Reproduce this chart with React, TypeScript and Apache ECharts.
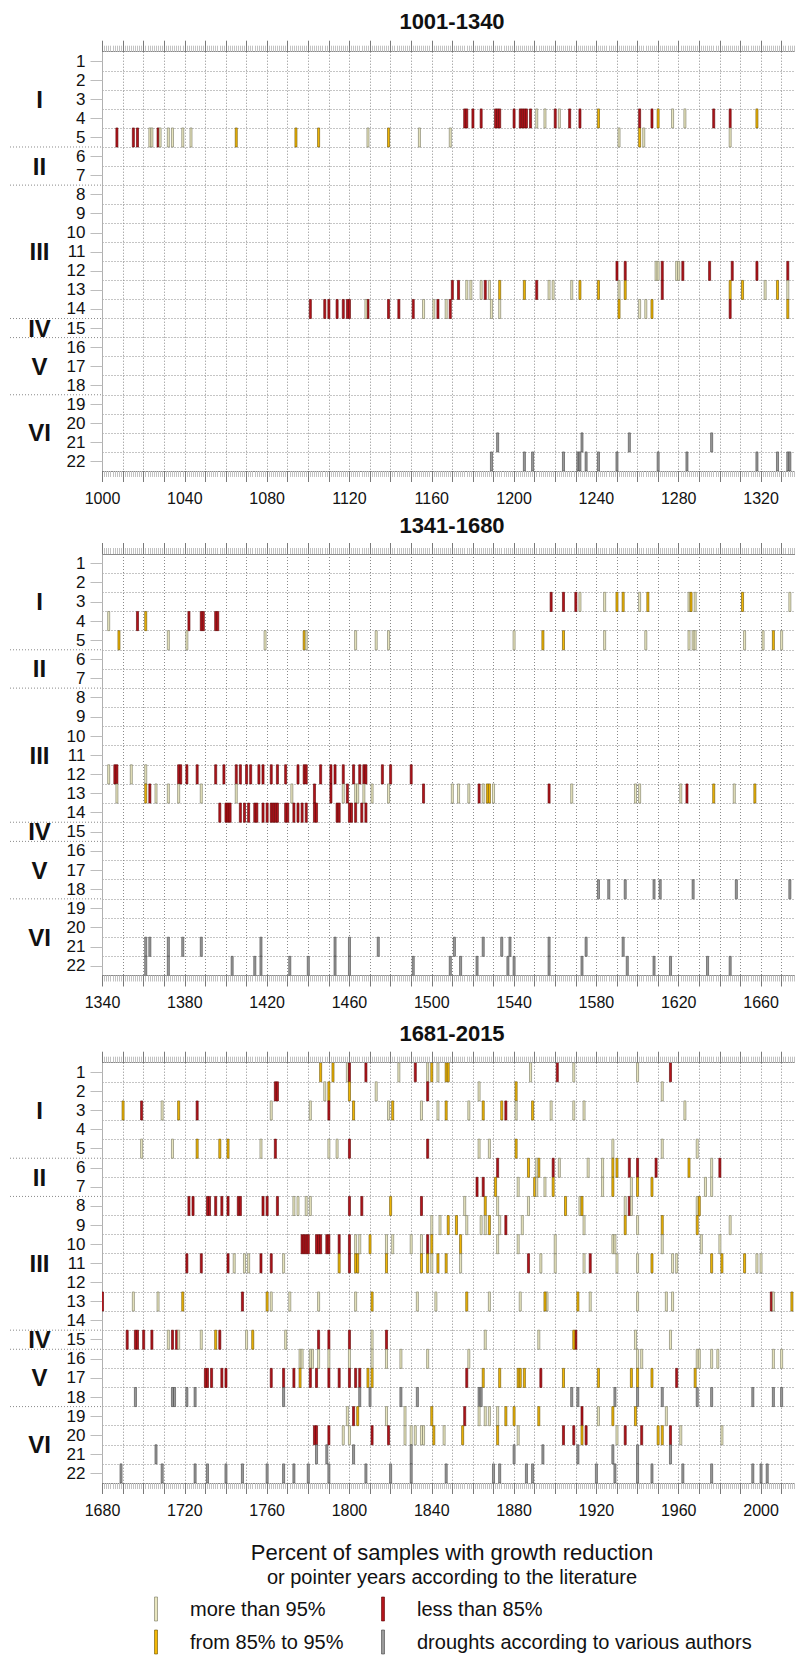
import React, { useEffect, useRef } from "react";
import * as echarts from "echarts";

// ---------- data ----------
const ROW_LABELS = ["1","2","3","4","5","6","7","8","9","10","11","12","13","14","15","16","17","18","19","20","21","22"];
const PANEL_TITLES = ["1001-1340", "1341-1680", "1681-2015"];
const PANEL_MIN = [1000, 1340, 1680];
const PANEL_MAX = [1340, 1680, 2020];
const GROUP_LABELS = ["I", "II", "III", "IV", "V", "VI"];
const GROUP_CENTER_ROWS = [3, 6.5, 11, 15, 17, 20.5];
const GROUP_BOUNDARIES = [5, 7, 14, 15, 18];
// types: G = more than 95%, Y = from 85% to 95%, R = less than 85%, D = droughts
const LEGEND_TITLE_1 = "Percent of samples with growth reduction";
const LEGEND_TITLE_2 = "or pointer years according to the literature";
const LEGEND_ITEMS: [string, string][] = [
  ["G", "more than 95%"],
  ["R", "less than 85%"],
  ["Y", "from 85% to 95%"],
  ["D", "droughts according to various authors"],
];

type Entry = [number, string, number[]];

const PANEL1: Entry[] = [
  [4, "R", [1176, 1177, 1180, 1184, 1191, 1192, 1193, 1200, 1203, 1204, 1205, 1206, 1208, 1220, 1227, 1232, 1261, 1267, 1297, 1305]],
  [4, "G", [1211, 1215, 1222, 1277, 1283]],
  [4, "Y", [1241, 1270, 1318]],
  [5, "R", [1007, 1015, 1017, 1027]],
  [5, "G", [1023, 1024, 1028, 1032, 1034, 1039, 1043, 1129, 1154, 1169, 1251, 1263, 1305]],
  [5, "Y", [1065, 1094, 1105, 1139, 1261]],
  [12, "R", [1250, 1254, 1272, 1282, 1295, 1306, 1318, 1333]],
  [12, "G", [1269, 1270, 1279, 1280]],
  [13, "R", [1170, 1173, 1186, 1211, 1272]],
  [13, "G", [1177, 1179, 1184, 1188, 1217, 1219, 1228, 1251, 1322, 1333]],
  [13, "Y", [1193, 1205, 1232, 1241, 1254, 1305, 1311, 1328]],
  [14, "R", [1101, 1108, 1110, 1114, 1117, 1119, 1120, 1129, 1139, 1144, 1151, 1163, 1169, 1305]],
  [14, "G", [1128, 1156, 1161, 1167, 1189, 1193, 1261, 1264]],
  [14, "Y", [1251, 1267, 1333]],
  [21, "D", [1192, 1233, 1256, 1296]],
  [22, "D", [1189, 1205, 1209, 1224, 1231, 1232, 1235, 1241, 1250, 1270, 1284, 1318, 1328, 1333, 1334]],
];

const PANEL2: Entry[] = [
  [3, "R", [1558, 1564, 1570]],
  [3, "G", [1572, 1584, 1601, 1625, 1628, 1674]],
  [3, "Y", [1590, 1593, 1605, 1626, 1651]],
  [4, "G", [1343]],
  [4, "R", [1357, 1382, 1388, 1389, 1395, 1396]],
  [4, "Y", [1361]],
  [5, "Y", [1348, 1438, 1554, 1564, 1666]],
  [5, "G", [1372, 1381, 1419, 1439, 1463, 1473, 1479, 1540, 1584, 1604, 1625, 1627, 1628, 1652, 1661, 1670]],
  [12, "G", [1343, 1354, 1361]],
  [12, "R", [1346, 1347, 1377, 1378, 1381, 1386, 1395, 1399, 1405, 1407, 1410, 1412, 1416, 1418, 1422, 1425, 1429, 1435, 1438, 1439, 1446, 1451, 1453, 1457, 1462, 1465, 1467, 1468, 1476, 1480, 1490]],
  [13, "G", [1347, 1366, 1372, 1377, 1388, 1405, 1432, 1457, 1463, 1464, 1467, 1471, 1479, 1510, 1513, 1518, 1525, 1530, 1568, 1599, 1601, 1621, 1647]],
  [13, "Y", [1361, 1527, 1528, 1637, 1657]],
  [13, "R", [1363, 1443, 1451, 1459, 1496, 1523, 1557, 1624]],
  [14, "R", [1397, 1400, 1401, 1402, 1407, 1409, 1411, 1414, 1415, 1418, 1420, 1422, 1423, 1424, 1425, 1429, 1430, 1433, 1435, 1437, 1439, 1443, 1444, 1454, 1455, 1460, 1461, 1463, 1466, 1468]],
  [18, "D", [1581, 1586, 1594, 1608, 1611, 1627, 1648, 1674]],
  [21, "D", [1361, 1363, 1372, 1379, 1388, 1417, 1453, 1460, 1474, 1511, 1525, 1534, 1538, 1557, 1575, 1593]],
  [22, "D", [1361, 1372, 1403, 1414, 1417, 1431, 1440, 1453, 1460, 1491, 1509, 1514, 1522, 1537, 1540, 1557, 1573, 1595, 1608, 1616, 1634, 1645]],
];

const PANEL3: Entry[] = [
  [1, "Y", [1786, 1792, 1840, 1847, 1848]],
  [1, "G", [1799, 1824, 1838, 1843, 1888, 1909, 1940]],
  [1, "R", [1800, 1808, 1832, 1901, 1956]],
  [2, "R", [1764, 1765, 1838]],
  [2, "G", [1788, 1813, 1863, 1952]],
  [2, "Y", [1790, 1800, 1881]],
  [3, "Y", [1690, 1717, 1802, 1821, 1847, 1865, 1874, 1889]],
  [3, "R", [1699, 1726, 1790, 1876]],
  [3, "G", [1709, 1762, 1781, 1819, 1835, 1843, 1858, 1881, 1898, 1909, 1914, 1963]],
  [5, "G", [1699, 1714, 1757, 1790, 1794, 1863, 1868, 1928, 1952, 1969]],
  [5, "Y", [1726, 1737, 1741, 1881]],
  [5, "R", [1764, 1800, 1838]],
  [6, "R", [1872, 1899, 1936, 1940, 1949, 1980]],
  [6, "Y", [1887, 1892, 1928, 1930, 1965]],
  [6, "G", [1891, 1902, 1916, 1923, 1976]],
  [7, "R", [1862, 1865]],
  [7, "Y", [1871, 1890, 1899, 1928, 1940, 1947]],
  [7, "G", [1882, 1891, 1895, 1923, 1937, 1973, 1976]],
  [8, "R", [1722, 1724, 1731, 1732, 1735, 1738, 1741, 1746, 1747, 1758, 1760, 1765, 1800, 1806, 1835, 1936]],
  [8, "G", [1773, 1775, 1779, 1781, 1856, 1872, 1887, 1912, 1934, 1937, 1969]],
  [8, "Y", [1820, 1866, 1905, 1913, 1970]],
  [9, "G", [1840, 1844, 1857, 1864, 1866, 1873, 1884, 1914, 1940, 1985]],
  [9, "Y", [1848, 1852, 1868, 1934, 1952, 1969]],
  [9, "R", [1876]],
  [10, "R", [1777, 1778, 1779, 1780, 1784, 1785, 1786, 1789, 1790, 1795, 1800, 1838]],
  [10, "G", [1803, 1805, 1818, 1821, 1830, 1835, 1872, 1882, 1900, 1928, 1929, 1952, 1971, 1980]],
  [10, "Y", [1810, 1840, 1854]],
  [11, "R", [1721, 1728, 1741, 1757, 1762, 1800, 1887, 1917]],
  [11, "G", [1744, 1749, 1751, 1768, 1840, 1854, 1893, 1900, 1914, 1930, 1940, 1957, 1959, 1998, 2000]],
  [11, "Y", [1795, 1803, 1804, 1818, 1835, 1838, 1843, 1847, 1947, 1976, 1981, 1992]],
  [13, "R", [1680, 1748, 2005]],
  [13, "G", [1695, 1707, 1762, 1771, 1785, 1803, 1833, 1842, 1868, 1883, 1896, 1917, 1940, 1954, 1957, 2006]],
  [13, "Y", [1719, 1760, 1811, 1857, 1895, 1911, 2015]],
  [15, "R", [1692, 1696, 1697, 1700, 1704, 1714, 1716, 1737, 1785, 1790, 1800, 1818, 1910]],
  [15, "G", [1712, 1717, 1728, 1750, 1769, 1811, 1866, 1892, 1939, 1956]],
  [15, "Y", [1735, 1753, 1909]],
  [16, "G", [1776, 1777, 1781, 1782, 1785, 1790, 1800, 1811, 1818, 1825, 1838, 1858, 1940, 1942, 1969, 1970, 1976, 1979, 2006, 2010]],
  [17, "R", [1730, 1731, 1733, 1738, 1740, 1762, 1768, 1773, 1781, 1784, 1790, 1795, 1800, 1803, 1805, 1857, 1893, 1959]],
  [17, "Y", [1776, 1809, 1811, 1865, 1873, 1882, 1883, 1885, 1904, 1921, 1937, 1940, 1947, 1968]],
  [18, "D", [1696, 1714, 1715, 1721, 1725, 1768, 1805, 1810, 1825, 1833, 1863, 1864, 1908, 1911, 1929, 1940, 1952, 1969, 1976, 1996, 2006, 2010]],
  [19, "G", [1799, 1818, 1827, 1863, 1866, 1868, 1872, 1921, 1954]],
  [19, "R", [1802, 1856, 1913]],
  [19, "Y", [1804, 1840, 1876, 1880, 1892, 1928, 1939]],
  [20, "R", [1783, 1784, 1790, 1811, 1819, 1904, 1909, 1915, 1934, 1942, 1956]],
  [20, "G", [1797, 1800, 1827, 1830, 1832, 1835, 1836, 1846, 1882, 1930, 1961, 1981]],
  [20, "Y", [1841, 1855, 1872, 1913, 1950, 1952]],
  [21, "D", [1706, 1784, 1789, 1802, 1830, 1880, 1894, 1911, 1928, 1940, 1956]],
  [22, "D", [1689, 1709, 1725, 1731, 1740, 1748, 1760, 1768, 1773, 1780, 1790, 1808, 1820, 1830, 1847, 1870, 1873, 1886, 1889, 1920, 1929, 1940, 1947, 1962, 1976, 1996, 2000, 2003]],
];

const PANELS = [PANEL1, PANEL2, PANEL3];

// ---------- styles / layout ----------
const TYPE_ORDER = ["G", "Y", "R", "D"];
const TYPE_FILL: Record<string, string> = { G: "#e9e6bf", Y: "#f2b705", R: "#b3141c", D: "#9a9a9a" };
const TYPE_STROKE: Record<string, string> = { G: "#75755f", Y: "#6a5200", R: "#5a0000", D: "#444444" };

const FONT = "'Liberation Sans', Arial, sans-serif";
const GRID_LEFT = 102.5;
const GRID_WIDTH = 699.7;
const GRID_TOPS = [51.7, 554, 1062.7];
const GRID_HEIGHTS = [419.3, 421.5, 420.3];
const TITLE_Y = [21, 525, 1033];
const CHART_W = 812;
const CHART_H = 1655;

function buildOption() {
  const grid: any[] = [];
  const xAxis: any[] = [];
  const yAxis: any[] = [];
  const series: any[] = [];
  const graphic: any[] = [];

  for (let i = 0; i < 3; i++) {
    const start = PANEL_MIN[i];
    grid.push({ left: GRID_LEFT, top: GRID_TOPS[i], width: GRID_WIDTH, height: GRID_HEIGHTS[i], containLabel: false });
    const common = {
      gridIndex: i,
      type: "value",
      min: PANEL_MIN[i],
      max: PANEL_MAX[i],
      interval: 10,
      axisLine: { show: true, onZero: false, lineStyle: { color: "#8a8a8a", width: 1 } },
      axisTick: { show: true, length: 11, lineStyle: { color: "#7a7a7a", width: 1 } },
      minorTick: { show: true, splitNumber: 10, length: 6, lineStyle: { color: "#c2c2c2", width: 1 } },
    };
    xAxis.push({
      ...common,
      position: "bottom",
      axisLabel: {
        show: true,
        fontSize: 16,
        color: "#111",
        fontFamily: FONT,
        margin: 19,
        showMinLabel: true,
        showMaxLabel: false,
        formatter: (v: number) => ((v - start) % 40 === 0 ? String(v) : ""),
      },
      splitLine: { show: true, lineStyle: { color: "#8a8a8a", type: [1, 2], width: 1 } },
    });
    xAxis.push({
      ...common,
      position: "top",
      axisLabel: { show: false },
      splitLine: { show: false },
    });
    yAxis.push({
      gridIndex: i,
      type: "category",
      data: ROW_LABELS,
      inverse: true,
      boundaryGap: true,
      position: "left",
      axisLine: { show: true, onZero: false, lineStyle: { color: "#b0b0b0" } },
      axisTick: { show: true, alignWithLabel: true, interval: 0, length: 12, lineStyle: { color: "#bdbdbd" } },
      axisLabel: { interval: 0, fontSize: 17, color: "#111", fontFamily: FONT, margin: 17 },
      splitLine: { show: false },
    });
    yAxis.push({
      gridIndex: i,
      type: "value",
      min: 0,
      max: 22,
      interval: 1,
      inverse: true,
      position: "right",
      axisLine: { show: false },
      axisTick: { show: false },
      axisLabel: { show: false },
      splitLine: { show: true, lineStyle: { color: "#8a8a8a", type: [1, 2], width: 1 } },
    });

    const data: number[][] = [];
    PANELS[i].forEach(([row, t, years]) => {
      years.forEach((y) => data.push([y, row, TYPE_ORDER.indexOf(t)]));
    });
    series.push({
      type: "custom",
      xAxisIndex: 2 * i,
      yAxisIndex: 2 * i + 1,
      data,
      encode: { x: 0, y: 1 },
      clip: true,
      silent: true,
      renderItem: (_params: any, api: any) => {
        const yr = api.value(0);
        const row = api.value(1);
        const t = TYPE_ORDER[api.value(2)];
        const p0 = api.coord([yr - 0.5, row - 1]);
        const p1 = api.coord([yr + 0.5, row]);
        return {
          type: "rect",
          shape: { x: p0[0], y: p0[1], width: p1[0] - p0[0], height: p1[1] - p0[1] },
          style: { fill: TYPE_FILL[t], stroke: TYPE_STROKE[t], lineWidth: 0.6 },
        };
      },
    });

    // panel title
    graphic.push({
      type: "text",
      x: 452,
      y: TITLE_Y[i],
      style: {
        text: PANEL_TITLES[i],
        font: `bold 22px ${FONT}`,
        fill: "#111",
        textAlign: "center",
        textVerticalAlign: "middle",
      },
    });
    const rowH = GRID_HEIGHTS[i] / 22;
    GROUP_LABELS.forEach((g, k) => {
      graphic.push({
        type: "text",
        x: 39.5,
        y: GRID_TOPS[i] + (GROUP_CENTER_ROWS[k] - 0.5) * rowH,
        style: {
          text: g,
          font: `bold 24px ${FONT}`,
          fill: "#111",
          textAlign: "center",
          textVerticalAlign: "middle",
        },
      });
    });
    GROUP_BOUNDARIES.forEach((b) => {
      const yy = GRID_TOPS[i] + b * rowH;
      graphic.push({
        type: "line",
        shape: { x1: 10, y1: yy, x2: GRID_LEFT, y2: yy },
        style: { stroke: "#8a8a8a", lineWidth: 1, lineDash: [1, 2] },
      });
    });
  }

  // legend
  graphic.push({
    type: "text",
    x: 452,
    y: 1552,
    style: { text: LEGEND_TITLE_1, font: `22px ${FONT}`, fill: "#111", textAlign: "center", textVerticalAlign: "middle" },
  });
  graphic.push({
    type: "text",
    x: 452,
    y: 1577,
    style: { text: LEGEND_TITLE_2, font: `20px ${FONT}`, fill: "#111", textAlign: "center", textVerticalAlign: "middle" },
  });
  const legendX = [156, 383];
  const legendY = [1609, 1642];
  LEGEND_ITEMS.forEach(([t, label], k) => {
    const col = k % 2;
    const rowk = Math.floor(k / 2);
    graphic.push({
      type: "rect",
      shape: { x: legendX[col] - 1.5, y: legendY[rowk] - 12, width: 3, height: 24 },
      style: { fill: TYPE_FILL[t], stroke: TYPE_STROKE[t], lineWidth: 0.6 },
    });
    graphic.push({
      type: "text",
      x: legendX[col] + 34,
      y: legendY[rowk],
      style: { text: label, font: `20px ${FONT}`, fill: "#111", textAlign: "left", textVerticalAlign: "middle" },
    });
  });

  return {
    animation: false,
    backgroundColor: "#ffffff",
    textStyle: { fontFamily: FONT },
    grid,
    xAxis,
    yAxis,
    series,
    graphic,
  };
}

export default function App() {
  const ref = useRef<HTMLDivElement>(null);
  useEffect(() => {
    if (!ref.current) return;
    const chart = echarts.init(ref.current, undefined, { renderer: "svg", width: CHART_W, height: CHART_H });
    chart.setOption(buildOption() as any);
    return () => chart.dispose();
  }, []);
  return (
    <div style={{ position: "absolute", left: 0, top: 0, width: 795, height: CHART_H, overflow: "hidden", background: "#fff" }}>
      <div ref={ref} style={{ width: CHART_W, height: CHART_H }} />
    </div>
  );
}
